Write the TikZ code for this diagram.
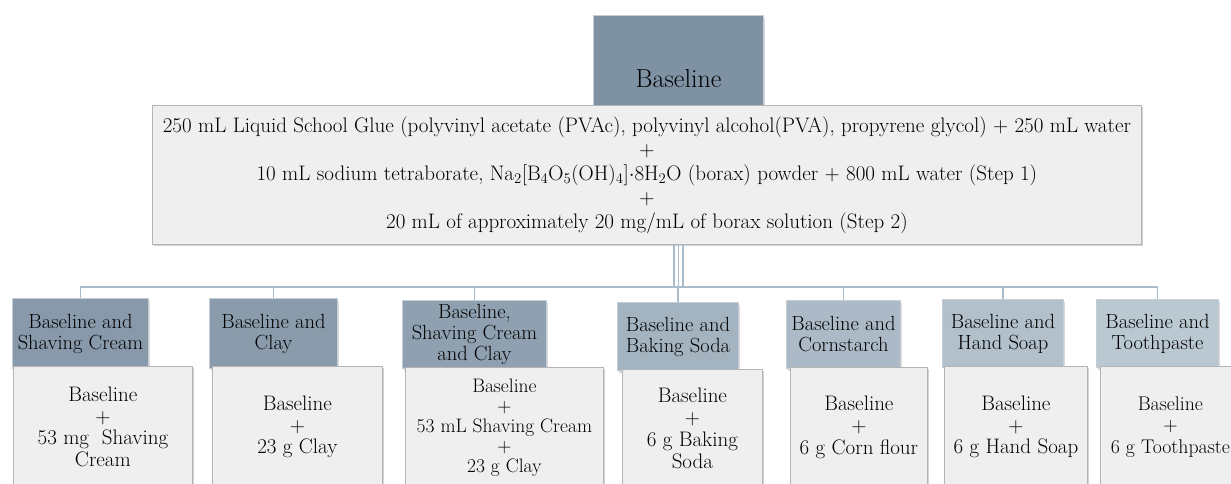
\documentclass[tikz,border=0pt]{standalone}
\usepackage{fontspec}
\usepackage{xcolor}
\usetikzlibrary{positioning, shadows}
\definecolor{HdrDark}{HTML}{7E92A4}
\definecolor{HdrMid}{HTML}{8799AA}
\definecolor{HdrLight}{HTML}{BAC8D2}
\definecolor{Panel}{HTML}{EFEFEF}
\definecolor{PanelEdge}{HTML}{B4B4B4}
\definecolor{Wire}{HTML}{A9BCCB}

\begin{document}
\begin{tikzpicture}[x=1pt, y=-1pt,
    hdr/.style={rectangle, draw=white!55!HdrDark, line width=1pt, inner sep=2pt,
                align=center, anchor=north west, font=\fontsize{20.5}{21}\selectfont,
                drop shadow={shadow xshift=1.5pt, shadow yshift=-2pt, opacity=.3}},
    mix/.style={rectangle, fill=Panel, draw=PanelEdge, line width=.8pt, inner sep=2pt,
                align=center, anchor=north west, font=\fontsize{21}{21.7}\selectfont,
                drop shadow={shadow xshift=2pt, shadow yshift=-2pt, opacity=.35}},
    link/.style={draw=Wire, line width=1.6pt}
]
    \useasboundingbox (0,0) rectangle (1231,483);

    % Baseline recipe on top
    \node[hdr, fill=HdrDark, inner sep=0pt, minimum width=170pt, text height=72pt,
          text depth=23pt, font=\fontsize{26}{30}\selectfont] (basehdr) at (593,15) {Baseline};
    \node[mix, minimum width=989pt, minimum height=139pt, font=\fontsize{21}{24}\selectfont]
        (recipe) at (152,105) {
        250 mL Liquid School Glue (polyvinyl acetate (PVAc), polyvinyl alcohol(PVA), propyrene glycol) + 250 mL water\\
        +\\
        10 mL sodium tetraborate, Na\textsubscript{2}[B\textsubscript{4}O\textsubscript{5}(OH)\textsubscript{4}]$\cdot$8H\textsubscript{2}O (borax) powder + 800 mL water (Step 1)\\
        +\\
        20 mL of approximately 20 mg/mL of borax solution (Step 2)};

    % Variants: header behind, content in front
    \node[hdr, fill=HdrMid, minimum width=136pt, minimum height=70pt] (h1) at (12,298) {Baseline and\\Shaving Cream};
    \node[mix, minimum width=179pt, minimum height=121pt] (c1) at (13,366) {Baseline\\+\\53 mg\ \ Shaving\\Cream};

    \node[hdr, fill=HdrMid!95!HdrLight, minimum width=128pt, minimum height=70pt] (h2) at (209,298) {Baseline and\\Clay};
    \node[mix, minimum width=170pt, minimum height=121pt] (c2) at (212,366) {Baseline\\+\\23 g Clay};

    \node[hdr, fill=HdrMid!85!HdrLight, minimum width=144pt, minimum height=68pt] (h3) at (402,300) {Baseline,\\Shaving Cream\\and Clay};
    \node[mix, minimum width=198pt, minimum height=120pt, font=\fontsize{19.5}{20}\selectfont] (c3) at (405,367) {Baseline\\+\\53 mL Shaving Cream\\+\\23 g Clay};

    \node[hdr, fill=HdrMid!45!HdrLight, minimum width=121pt, minimum height=68pt] (h4) at (617,302) {Baseline and\\Baking Soda};
    \node[mix, minimum width=140pt, minimum height=118pt] (c4) at (622,369) {Baseline\\+\\6 g Baking\\Soda};

    \node[hdr, fill=HdrMid!30!HdrLight, minimum width=114pt, minimum height=68pt] (h5) at (786,300) {Baseline and\\Cornstarch};
    \node[mix, minimum width=137pt, minimum height=120pt] (c5) at (790,367) {Baseline\\+\\6 g Corn flour};

    \node[hdr, fill=HdrMid!18!HdrLight, minimum width=121pt, minimum height=68pt] (h6) at (942,299) {Baseline and\\Hand Soap};
    \node[mix, minimum width=143pt, minimum height=121pt] (c6) at (944,366) {Baseline\\+\\6 g Hand Soap};

    \node[hdr, fill=HdrLight, minimum width=122pt, minimum height=68pt] (h7) at (1096,299) {Baseline and\\Toothpaste};
    \node[mix, minimum width=140pt, minimum height=121pt, font=\fontsize{19.8}{21.7}\selectfont] (c7) at (1100,366) {Baseline\\+\\6 g Toothpaste};

    % Connectors
    \coordinate (trunk) at (recipe.south -| basehdr.south);
    \coordinate (hub) at (basehdr.south |- 0,287);
    \foreach \dx in {-4.5,0,4.5}
        \draw[link, line width=1.1pt] ([xshift=\dx pt]trunk) -- ([xshift=\dx pt]hub);
    \foreach \c in {h1,h2,h3,h4,h5,h6,h7}
        \draw[link] (hub) -| (\c.north);
\end{tikzpicture}
\end{document}
